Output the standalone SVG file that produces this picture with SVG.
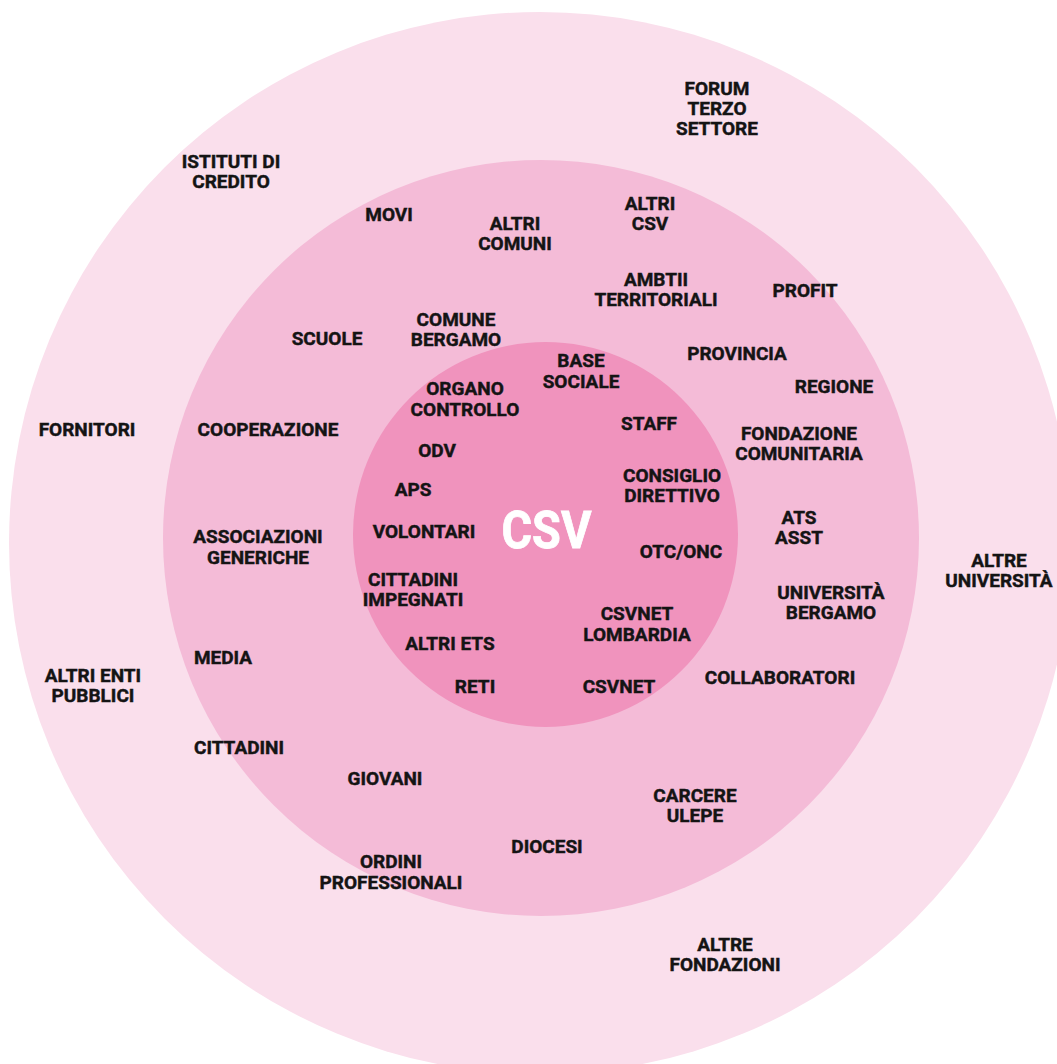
<svg xmlns="http://www.w3.org/2000/svg" width="1057" height="1064" viewBox="0 0 1057 1064">
<style>
.l{font-family:Roboto,"Liberation Sans",sans-serif;font-weight:700;font-size:19px;fill:#141414;stroke:#141414;stroke-width:0.45px;text-anchor:middle}
.c{font-family:Roboto,"Liberation Sans",sans-serif;font-weight:700;font-size:52px;fill:#ffffff;stroke:#ffffff;stroke-width:0.8px;text-anchor:middle}
</style>
<rect width="1057" height="1064" fill="#ffffff"/>
<g id="rings">
<circle id="ring-outer" cx="540" cy="543" r="531" fill="#FADFEC"/>
<circle id="ring-middle" cx="541" cy="538" r="378" fill="#F4BBD7"/>
<circle id="ring-inner" cx="545.5" cy="534.5" r="192.5" fill="#F093BD"/>
</g>
<g id="outer-labels">
<g id="n-forum"><text class="l" x="717" y="95">FORUM</text><text class="l" x="717" y="115">TERZO</text><text class="l" x="717" y="135">SETTORE</text></g>
<g id="n-istituti"><text class="l" x="231" y="168">ISTITUTI DI</text><text class="l" x="231" y="188">CREDITO</text></g>
<g id="n-fornitori"><text class="l" x="87" y="436">FORNITORI</text></g>
<g id="n-altri-enti"><text class="l" x="93" y="682">ALTRI ENTI</text><text class="l" x="93" y="702">PUBBLICI</text></g>
<g id="n-altre-univ"><text class="l" x="999" y="567">ALTRE</text><text class="l" x="999" y="587">UNIVERSITÀ</text></g>
<g id="n-altre-fond"><text class="l" x="725" y="951">ALTRE</text><text class="l" x="725" y="971">FONDAZIONI</text></g>
</g>
<g id="middle-labels">
<g id="n-movi"><text class="l" x="389" y="221">MOVI</text></g>
<g id="n-altri-comuni"><text class="l" x="515" y="230">ALTRI</text><text class="l" x="515" y="250">COMUNI</text></g>
<g id="n-altri-csv"><text class="l" x="650" y="210">ALTRI</text><text class="l" x="650" y="230">CSV</text></g>
<g id="n-ambiti"><text class="l" x="656" y="286">AMBTII</text><text class="l" x="656" y="306">TERRITORIALI</text></g>
<g id="n-profit"><text class="l" x="805" y="297">PROFIT</text></g>
<g id="n-scuole"><text class="l" x="327" y="345">SCUOLE</text></g>
<g id="n-comune"><text class="l" x="456" y="326">COMUNE</text><text class="l" x="456" y="346">BERGAMO</text></g>
<g id="n-provincia"><text class="l" x="737" y="360">PROVINCIA</text></g>
<g id="n-regione"><text class="l" x="834" y="393">REGIONE</text></g>
<g id="n-cooperazione"><text class="l" x="268" y="436">COOPERAZIONE</text></g>
<g id="n-fondazione"><text class="l" x="799" y="440">FONDAZIONE</text><text class="l" x="799" y="460">COMUNITARIA</text></g>
<g id="n-ats"><text class="l" x="799" y="524">ATS</text><text class="l" x="799" y="544">ASST</text></g>
<g id="n-associazioni"><text class="l" x="258" y="543">ASSOCIAZIONI</text><text class="l" x="258" y="564">GENERICHE</text></g>
<g id="n-universita"><text class="l" x="831" y="599">UNIVERSITÀ</text><text class="l" x="831" y="619">BERGAMO</text></g>
<g id="n-media"><text class="l" x="223" y="664">MEDIA</text></g>
<g id="n-collaboratori"><text class="l" x="780" y="684">COLLABORATORI</text></g>
<g id="n-cittadini"><text class="l" x="239" y="754">CITTADINI</text></g>
<g id="n-giovani"><text class="l" x="385" y="785">GIOVANI</text></g>
<g id="n-carcere"><text class="l" x="695" y="802">CARCERE</text><text class="l" x="695" y="822">ULEPE</text></g>
<g id="n-diocesi"><text class="l" x="547" y="853">DIOCESI</text></g>
<g id="n-ordini"><text class="l" x="391" y="868">ORDINI</text><text class="l" x="391" y="889">PROFESSIONALI</text></g>
</g>
<g id="inner-labels">
<g id="n-csv"><text class="c" x="546.5" y="548" textLength="90" lengthAdjust="spacingAndGlyphs">CSV</text></g>
<g id="n-base"><text class="l" x="581" y="367">BASE</text><text class="l" x="581" y="388">SOCIALE</text></g>
<g id="n-organo"><text class="l" x="465" y="395">ORGANO</text><text class="l" x="465" y="416">CONTROLLO</text></g>
<g id="n-staff"><text class="l" x="649" y="430">STAFF</text></g>
<g id="n-odv"><text class="l" x="437" y="457">ODV</text></g>
<g id="n-consiglio"><text class="l" x="672" y="482">CONSIGLIO</text><text class="l" x="672" y="502">DIRETTIVO</text></g>
<g id="n-aps"><text class="l" x="413" y="496">APS</text></g>
<g id="n-volontari"><text class="l" x="424" y="538">VOLONTARI</text></g>
<g id="n-otc"><text class="l" x="681" y="558">OTC/ONC</text></g>
<g id="n-cittadini-imp"><text class="l" x="413" y="586">CITTADINI</text><text class="l" x="413" y="606">IMPEGNATI</text></g>
<g id="n-csvnet-lomb"><text class="l" x="637" y="620">CSVNET</text><text class="l" x="637" y="641">LOMBARDIA</text></g>
<g id="n-altri-ets"><text class="l" x="450" y="650">ALTRI ETS</text></g>
<g id="n-reti"><text class="l" x="475" y="693">RETI</text></g>
<g id="n-csvnet"><text class="l" x="619" y="693">CSVNET</text></g>
</g>
</svg>
